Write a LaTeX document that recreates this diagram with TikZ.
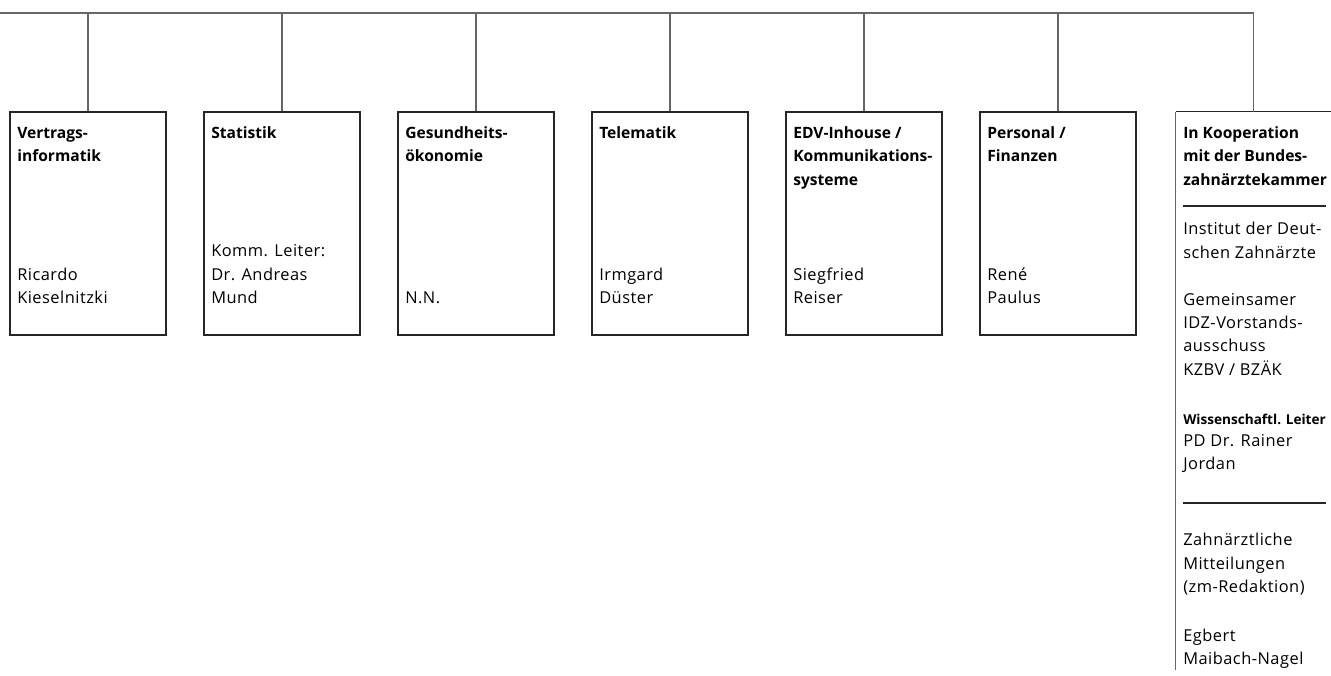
\documentclass[tikz,border=0pt]{standalone}
\usepackage{fontspec}
\setmainfont{Open Sans}
\newfontfamily\regfont{Open Sans}[LetterSpace=3]
\begin{document}
\begin{tikzpicture}[x=0.75pt,y=-0.75pt,
  conn/.style={draw=black!60, line width=0.9pt},
  edge/.style={draw=black!85, line width=0.8pt},
  box/.style={edge, minimum width=117pt, minimum height=167.25pt, inner sep=0pt},
  txt/.style={align=left, anchor=base west, inner sep=0pt, font=\regfont\fontsize{12.3pt}{17.5pt}\selectfont},
  ttl/.style={align=left, anchor=base west, inner sep=0pt, font=\fontsize{11.7pt}{17.5pt}\selectfont\bfseries},
  sml/.style={align=left, anchor=base west, inner sep=0pt, font=\fontsize{10.2pt}{17.5pt}\selectfont\bfseries}]
\useasboundingbox (0,0) rectangle (1331,675);
% top line
\coordinate (tl) at (0,13);
\coordinate (tr) at (1254,13);
\draw[conn] (tl) -- (tr);
% boxes
\node[box] (b1) at (88,223.5) {};
\node[box] (b2) at (282,223.5) {};
\node[box] (b3) at (476,223.5) {};
\node[box] (b4) at (670,223.5) {};
\node[box] (b5) at (864,223.5) {};
\node[box] (b6) at (1058,223.5) {};
\node[inner sep=0pt, minimum width=116.25pt, minimum height=418.5pt] (b7) at (1253.5,391) {};
\draw[edge] (b7.north east) -- (b7.north west);
\draw[conn] (b7.north west) -- (b7.south west);
\foreach \b in {b1,b2,b3,b4,b5,b6,b7}{
  \draw[conn] (\b.north) -- (\b.north |- tl);
}
% separators
\coordinate (s1a) at (1183,206); \coordinate (s1b) at (1326,206);
\coordinate (s2a) at (1183,503); \coordinate (s2b) at (1326,503);
\draw[edge] (s1a) -- (s1b);
\draw[edge] (s2a) -- (s2b);
% texts (anchor = baseline of the last line)
\node[ttl] (t1) at (17,161.5) {Vertrags-\\informatik};
\node[txt] (n1) at (17,303.5) {Ricardo\\Kieselnitzki};
\node[ttl] (t2) at (211,138) {Statistik};
\node[txt] (n2) at (211,303.5) {Komm. Leiter:\\Dr. Andreas\\Mund};
\node[ttl] (t3) at (405,161.5) {Gesundheits-\\ökonomie};
\node[txt] (n3) at (405,303.5) {N.N.};
\node[ttl] (t4) at (599,138) {Telematik};
\node[txt] (n4) at (599,303.5) {Irmgard\\Düster};
\node[ttl] (t5) at (793,185) {EDV-Inhouse /\\Kommunikations-\\systeme};
\node[txt] (n5) at (793,303.5) {Siegfried\\Reiser};
\node[ttl] (t6) at (987,161.5) {Personal /\\Finanzen};
\node[txt] (n6) at (987,303.5) {René\\Paulus};
\node[ttl] (t7) at (1183,185) {In Kooperation\\mit der Bundes-\\zahnärztekammer};
\node[txt] (i1) at (1183,258) {Institut der Deut-\\schen Zahnärzte};
\node[txt] (i2) at (1183,375) {Gemeinsamer\\IDZ-Vorstands-\\ausschuss\\KZBV / BZÄK};
\node[sml] (i3) at (1183,424) {Wissenschaftl. Leiter};
\node[txt] (i4) at (1183,469.5) {PD Dr. Rainer\\Jordan};
\node[txt] (i5) at (1183,592.5) {Zahnärztliche\\Mitteilungen\\(zm-Redaktion)};
\node[txt] (i6) at (1183,664.5) {Egbert\\Maibach-Nagel};
\end{tikzpicture}
\end{document}
